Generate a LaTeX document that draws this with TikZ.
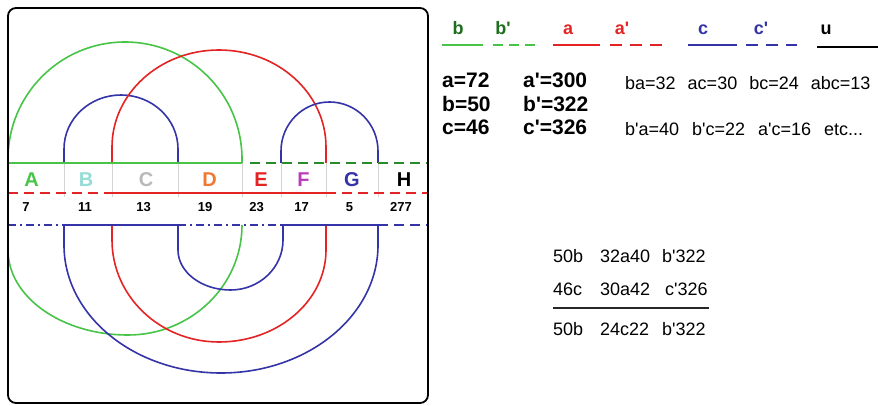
\documentclass[tikz,border=0pt]{standalone}
\usepackage{fontspec}
\setmainfont{Liberation Sans}
\definecolor{arcgreen}{RGB}{72,196,72}
\definecolor{dkgreen}{RGB}{40,140,40}
\definecolor{legreen}{RGB}{30,110,30}
\definecolor{arcred}{RGB}{228,36,36}
\definecolor{arcblue}{RGB}{52,52,168}
\definecolor{labB}{RGB}{150,220,215}
\definecolor{labC}{RGB}{185,185,185}
\definecolor{labD}{RGB}{240,120,50}
\definecolor{labF}{RGB}{185,60,190}
\definecolor{sepgray}{RGB}{212,212,212}
\newcommand\tq{\textquotesingle}
\begin{document}
\begin{tikzpicture}[x=1pt,y=-1pt,
  lw/.style={line width=1.6pt},
  gline/.style={lw,draw=arcgreen},
  rline/.style={lw,draw=arcred},
  bline/.style={lw,draw=arcblue},
  dsh/.style={dash pattern=on 10pt off 6pt},
  dshdot/.style={dash pattern=on 8pt off 4pt on 2pt off 4pt},
  lab/.style={font=\fontsize{20}{24}\selectfont\bfseries, inner sep=0pt},
  num/.style={font=\fontsize{13}{15}\selectfont\bfseries, inner sep=0pt},
  bigt/.style={font=\fontsize{21}{25}\selectfont\bfseries, inner sep=0pt, anchor=base west},
  midt/.style={font=\fontsize{18}{22}\selectfont, inner sep=0pt, anchor=base west},
  legt/.style={font=\fontsize{18}{22}\selectfont\bfseries, inner sep=0pt, anchor=base},
]
\useasboundingbox (0,0) rectangle (878,406);
\fill[white] (0,0) rectangle (878,406);

% cell separators of the sequence row
\foreach \sx in {64,112,178,242,281,326,378}
  \draw[sepgray, line width=0.8pt] (\sx,163) -- (\sx,197);

% arcs above the strip
\draw[gline] (8,163) -- ++(0,-4) arc[start angle=180,end angle=0,x radius=117pt,y radius=117pt] -- ++(0,4);
\draw[bline] (64,163) -- ++(0,-14) arc[start angle=180,end angle=0,x radius=57pt,y radius=54pt] -- ++(0,14);
\draw[rline] (112,163) -- ++(0,-16) arc[start angle=180,end angle=0,x radius=107pt,y radius=97pt] -- ++(0,16);
\draw[bline] (281,163) -- ++(0,-12) arc[start angle=180,end angle=0,x radius=48.5pt,y radius=49pt] -- ++(0,12);

% arcs below the strip
\draw[gline] (8,225) -- (8,250)
  arc[start angle=180,end angle=270,x radius=120pt,y radius=85pt]
  arc[start angle=270,end angle=360,x radius=114pt,y radius=110pt];
\draw[bline] (64,225) -- ++(0,20) arc[start angle=180,end angle=360,x radius=157pt,y radius=128pt] -- ++(0,-20);
\draw[rline] (112,225) -- (112,240)
  arc[start angle=180,end angle=270,x radius=107pt,y radius=102pt]
  arc[start angle=270,end angle=360,x radius=107pt,y radius=92pt] -- (326,225);
\draw[bline] (178,225) -- (178,250)
  arc[start angle=180,end angle=270,x radius=52.5pt,y radius=40pt]
  arc[start angle=270,end angle=360,x radius=52.5pt,y radius=50pt] -- (283,225);

% horizontal strip lines
\draw[gline] (8,163) -- (242,163);
\draw[lw,draw=dkgreen,dsh] (250,163) -- (428,163);
\draw[rline,dsh] (8,193) -- (112,193);
\draw[rline] (112,193) -- (326,193);
\draw[rline,dsh] (326,193) -- (428,193);
\draw[bline,dshdot] (8,225) -- (64,225);
\draw[bline] (64,225) -- (178,225);
\draw[bline,dshdot] (178,225) -- (281,225);
\draw[bline] (281,225) -- (378,225);
\draw[bline,dsh] (378,225) -- (428,225);

% frame
\draw[line width=1.8pt, rounded corners=8pt] (8,8) rectangle (428,403);

% segment letters
\node[lab, text=arcgreen] (lA) at (31.5,180) {A};
\node[lab, text=labB] (lB) at (86,180) {B};
\node[lab, text=labC] (lC) at (146,180) {C};
\node[lab, text=labD] (lD) at (209.5,180) {D};
\node[lab, text=arcred] (lE) at (261,180) {E};
\node[lab, text=labF] (lF) at (303.5,180) {F};
\node[lab, text=arcblue] (lG) at (352,180) {G};
\node[lab, text=black] (lH) at (404,180) {H};

% segment counts
\node[num] (nA) at (26,207) {7};
\node[num] (nB) at (85,207) {11};
\node[num] (nC) at (143.5,207) {13};
\node[num] (nD) at (205,207) {19};
\node[num] (nE) at (256.5,207) {23};
\node[num] (nF) at (301.5,207) {17};
\node[num] (nG) at (349.5,207) {5};
\node[num] (nH) at (401,207) {277};

% legend
\node[legt, text=legreen] (kb) at (458,35) {b};
\node[legt, text=legreen] (kbp) at (503,35) {b\tq};
\node[legt, text=arcred] (ka) at (568,35) {a};
\node[legt, text=arcred] (kap) at (622,35) {a\tq};
\node[legt, text=arcblue] (kc) at (703,35) {c};
\node[legt, text=arcblue] (kcp) at (761,35) {c\tq};
\node[legt, text=black] (ku) at (826,35) {u};
\draw[gline] (442,45) -- (483,45);
\draw[gline,dash pattern=on 10pt off 6pt] (493,45) -- (537,45);
\draw[rline] (553,45) -- (600,45);
\draw[rline,dash pattern=on 12pt off 8pt] (610,45) -- (667,45);
\draw[bline] (688,45) -- (737,45);
\draw[bline,dash pattern=on 12pt off 8pt] (746,45) -- (797,45);
\draw[lw,draw=black] (817,47) -- (878,47);

% totals
\node[bigt] (va) at (442,88) {a=72};
\node[bigt] (vb) at (442,112) {b=50};
\node[bigt] (vc) at (442,135) {c=46};
\node[bigt] (vap) at (523,88) {a\tq=300};
\node[bigt] (vbp) at (523,112) {b\tq=322};
\node[bigt] (vcp) at (523,135) {c\tq=326};

% pairwise overlaps
\node[midt] (pr1) at (625,90) {ba=32\hspace{12pt}ac=30\hspace{12pt}bc=24\hspace{12pt}abc=13};
\node[midt] (pr2) at (625,136) {b\tq a=40\hspace{13pt}b\tq c=22\hspace{13pt}a\tq c=16\hspace{13pt}etc...};

% sum
\node[midt] (s11) at (553,262) {50b};
\node[midt] (s12) at (600,262) {32a40};
\node[midt] (s13) at (662,262) {b\tq322};
\node[midt] (s21) at (553,295) {46c};
\node[midt] (s22) at (600,295) {30a42};
\node[midt] (s23) at (665,295) {c\tq326};
\draw[line width=1.8pt, black!85] (553,308) -- (709,308);
\node[midt] (s31) at (553,335) {50b};
\node[midt] (s32) at (600,335) {24c22};
\node[midt] (s33) at (662,335) {b\tq322};
\end{tikzpicture}
\end{document}
